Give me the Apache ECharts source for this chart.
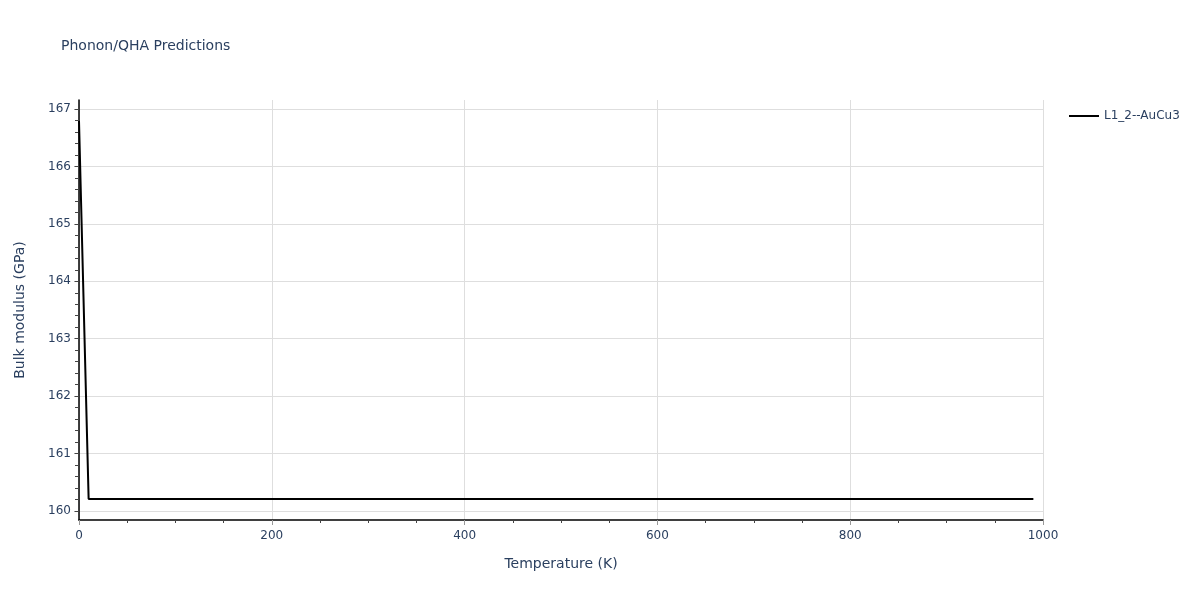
<!DOCTYPE html>
<html><head><meta charset="utf-8">
<script src="https://cdn.jsdelivr.net/npm/echarts@6/dist/echarts.min.js"></script>
<style>html,body{margin:0;padding:0;background:#fff}#c{width:1200px;height:600px}</style>
</head><body><div id="c"></div>
<script>
const temperatures = [0, 10, 990];
const bulkModulus = [166.79, 160.21, 160.21];
const seriesName = 'L1_2--AuCu3';
const yTicks = [160, 161, 162, 163, 164, 165, 166, 167];
const yMinorTicks = [];
for (let v = 159.8; v <= 167.21; v += 0.2) yMinorTicks.push(Math.round(v * 10) / 10);
const xTicks = [0, 200, 400, 600, 800, 1000];

const FONT = '"DejaVu Sans", verdana, sans-serif';
const TXT = '#2a3f5f';
const YMIN = 159.843, YMAX = 167.157;

const chart = echarts.init(document.getElementById('c'));
chart.setOption({
  animation: false,
  title: { text: 'Phonon/QHA Predictions', left: 56, top: 34,
    textStyle: { fontFamily: FONT, fontSize: 14, fontWeight: 'normal', color: TXT } },
  legend: { left: 1064, top: 105, itemWidth: 30, itemHeight: 10, itemGap: 5,
    textStyle: { fontFamily: FONT, fontSize: 12, color: TXT },
    data: [{ name: seriesName, icon: 'path://M0,4 L30,4 L30,6 L0,6 Z' }] },
  grid: { left: 79, right: 157, top: 100, bottom: 80, containLabel: false },
  xAxis: {
    type: 'value', min: 0, max: 1000, interval: 200,
    name: 'Temperature (K)', nameLocation: 'middle', nameGap: 37,
    nameTextStyle: { fontFamily: FONT, fontSize: 14, color: TXT },
    axisLine: { onZero: false, lineStyle: { color: '#000', width: 1.5 } },
    axisTick: { show: true, length: 5, lineStyle: { color: '#999' } },
    minorTick: { show: true, splitNumber: 4, length: 3, lineStyle: { color: '#444' } },
    axisLabel: { margin: 10, fontFamily: FONT, fontSize: 12, color: TXT,
      customValues: xTicks, formatter: v => String(v) },
    splitLine: { show: true, lineStyle: { color: '#dedede' } }
  },
  yAxis: [{
    type: 'value', min: YMIN, max: YMAX,
    name: 'Bulk modulus (GPa)', nameLocation: 'middle', nameGap: 52,
    nameTextStyle: { fontFamily: FONT, fontSize: 14, color: TXT },
    axisLine: { show: true, onZero: false, lineStyle: { color: '#000', width: 1.5 } },
    axisTick: { show: true, length: 5, lineStyle: { color: '#999' }, customValues: yTicks },
    axisLabel: { margin: 8, fontFamily: FONT, fontSize: 12, color: TXT, customValues: yTicks,
      formatter: v => String(Math.round(v)) },
    splitLine: { show: true, lineStyle: { color: '#dedede' } }
  }, {
    type: 'value', min: YMIN, max: YMAX, position: 'left', offset: 0,
    axisLine: { show: false },
    axisTick: { show: true, length: 4, lineStyle: { color: '#444' }, customValues: yMinorTicks },
    axisLabel: { show: false },
    splitLine: { show: false }
  }],
  series: [{
    name: seriesName, type: 'line', yAxisIndex: 0, showSymbol: false,
    lineStyle: { color: '#000', width: 2 }, itemStyle: { color: '#000' },
    data: temperatures.map((t, i) => [t, bulkModulus[i]])
  }]
});
</script></body></html>
